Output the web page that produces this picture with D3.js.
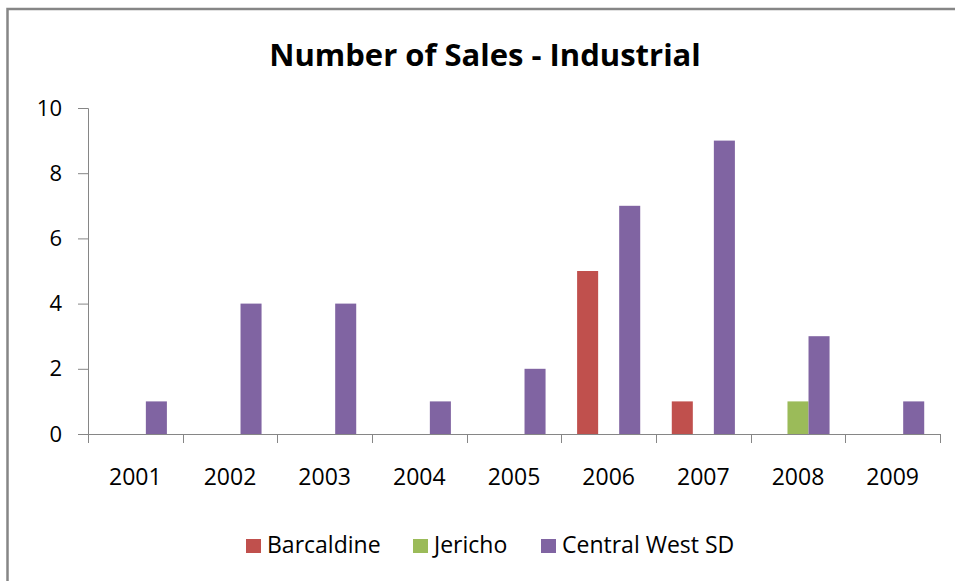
<!DOCTYPE html>
<html>
<head>
<meta charset="utf-8">
<script src="https://cdn.jsdelivr.net/npm/d3@7"></script>
<style>
  body { margin: 0; background: #fff; }
  text { font-family: "Open Sans", "Noto Sans", sans-serif; fill: #000; }
</style>
</head>
<body>
<div id="chart"></div>
<script>
var years = ["2001", "2002", "2003", "2004", "2005", "2006", "2007", "2008", "2009"];
var seriesNames = ["Barcaldine", "Jericho", "Central West SD"];
var barcaldine = [0, 0, 0, 0, 0, 5, 1, 0, 0];
var jericho = [0, 0, 0, 0, 0, 0, 0, 1, 0];
var centralWest = [1, 4, 4, 1, 2, 7, 9, 3, 1];
var colors = ["#C0504D", "#9BBB59", "#8064A2"];
var yTicks = [0, 2, 4, 6, 8, 10];

var svgWidth = 955;
var svgHeight = 581;

var margin = { top: 108, right: 15, bottom: 147, left: 88 };
var width = svgWidth - margin.left - margin.right;
var height = svgHeight - margin.top - margin.bottom;

var svg = d3.select("#chart")
  .append("svg")
  .attr("width", svgWidth)
  .attr("height", svgHeight);

// outer frame, runs off the page on the right and bottom
svg.append("rect")
  .attr("x", 7.5)
  .attr("y", 9)
  .attr("width", 1000)
  .attr("height", 1000)
  .attr("fill", "none")
  .attr("stroke", "#868686")
  .attr("stroke-width", 2.5);

svg.append("text")
  .attr("x", 485)
  .attr("y", 66)
  .attr("text-anchor", "middle")
  .attr("font-size", 31)
  .attr("font-weight", "bold")
  .text("Number of Sales - Industrial");

var chartGroup = svg.append("g")
  .attr("transform", `translate(${margin.left}, ${margin.top})`);

var data = years.map(function(y, i) {
  return { year: y, values: [barcaldine[i], jericho[i], centralWest[i]] };
});

var x0 = d3.scaleBand()
  .domain(years)
  .range([0, width])
  .paddingInner(0)
  .paddingOuter(0);

// gap width ~150% of a bar
var x1 = d3.scaleBand()
  .domain(d3.range(3))
  .range([x0.bandwidth() * 0.75 / 4.5 * 1, x0.bandwidth() - x0.bandwidth() * 0.75 / 4.5]);

var yScale = d3.scaleLinear()
  .domain([0, 10])
  .range([height, 0]);

// bars
var groups = chartGroup.selectAll(".year")
  .data(data)
  .enter()
  .append("g")
  .attr("transform", d => `translate(${x0(d.year)}, 0)`);

groups.selectAll("rect")
  .data(d => d.values.map((v, i) => ({ v: v, i: i })))
  .enter()
  .append("rect")
  .attr("x", d => x1(d.i))
  .attr("width", x1.bandwidth())
  .attr("y", d => yScale(d.v))
  .attr("height", d => height - yScale(d.v))
  .attr("fill", d => colors[d.i]);

//axes
var leftAxis = d3.axisLeft(yScale).tickValues(yTicks).tickSize(10).tickPadding(16);
var bottomAxis = d3.axisBottom(x0).tickSize(0).tickPadding(35);

var yAxisG = chartGroup.append("g").call(leftAxis);
yAxisG.selectAll("text").attr("font-size", 22).attr("fill", "#000");

var xAxisG = chartGroup.append("g")
  .attr("transform", `translate(0, ${height})`)
  .call(bottomAxis);
xAxisG.selectAll("text").attr("font-size", 23).attr("fill", "#000");

// category separator ticks
xAxisG.selectAll(".sep")
  .data(d3.range(years.length + 1))
  .enter()
  .append("line")
  .attr("x1", i => Math.round(i * x0.bandwidth()) + 0.5)
  .attr("x2", i => Math.round(i * x0.bandwidth()) + 0.5)
  .attr("y1", 0)
  .attr("y2", 9)
  .attr("stroke", "#868686");

svg.selectAll(".domain").attr("stroke", "#868686");
yAxisG.selectAll(".tick line").attr("stroke", "#868686");

// legend
var legendItems = [
  { name: seriesNames[0], x: 246 },
  { name: seriesNames[1], x: 413 },
  { name: seriesNames[2], x: 541 }
];

var legend = svg.selectAll(".legend")
  .data(legendItems)
  .enter()
  .append("g")
  .attr("transform", d => `translate(${d.x}, 539)`);

legend.append("rect")
  .attr("width", 15)
  .attr("height", 14)
  .attr("fill", (d, i) => colors[i]);

legend.append("text")
  .attr("x", 21)
  .attr("y", 14)
  .attr("font-size", 23)
  .text(d => d.name);
</script>
</body>
</html>
